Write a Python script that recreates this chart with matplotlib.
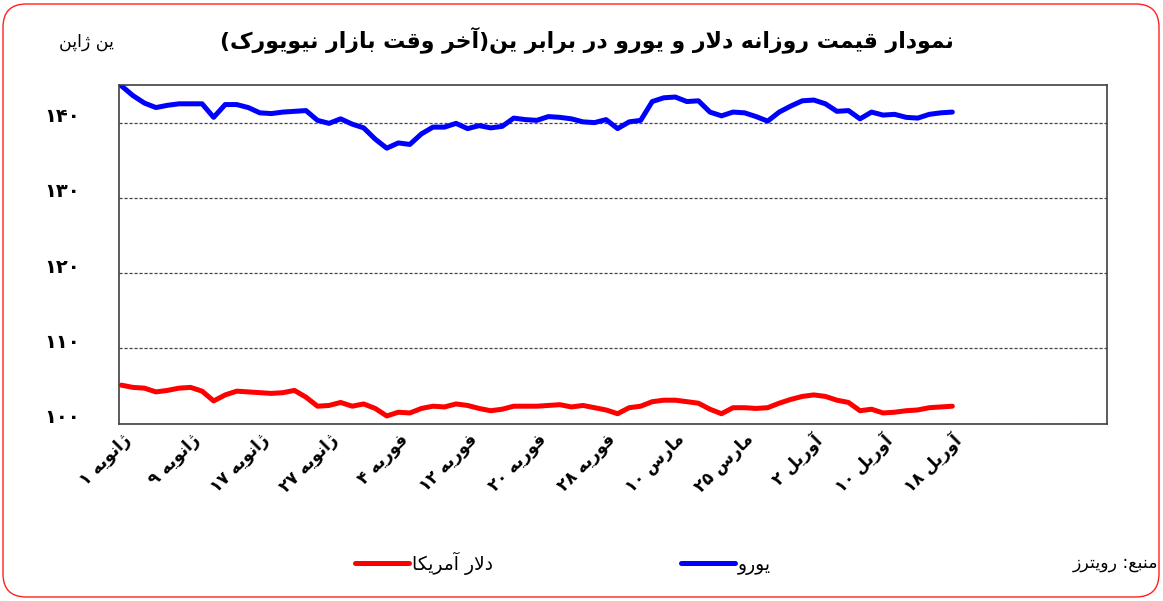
import matplotlib
matplotlib.use("Agg")
import matplotlib.pyplot as plt
import matplotlib.transforms as mtransforms
from matplotlib.patches import FancyBboxPatch
from matplotlib.ticker import FuncFormatter

# daily close, yen per unit
euro = [144.9, 143.6, 142.6, 142.0, 142.3, 142.5, 142.5, 142.5, 140.7, 142.4,
        142.4, 142.0, 141.3, 141.2, 141.4, 141.5, 141.6, 140.3, 139.9, 140.5,
        139.8, 139.3, 137.8, 136.6, 137.3, 137.1, 138.5, 139.4, 139.4, 139.9,
        139.2, 139.6, 139.3, 139.5, 140.6, 140.4, 140.3, 140.8, 140.7, 140.5,
        140.1, 140.0, 140.4, 139.2, 140.1, 140.3, 142.8, 143.3, 143.4, 142.8,
        142.9, 141.4, 140.9, 141.4, 141.3, 140.8, 140.2, 141.4, 142.2, 142.9,
        143.0, 142.5, 141.5, 141.6, 140.5, 141.4, 141.0, 141.1, 140.7, 140.6,
        141.1, 141.3, 141.4]
usd = [105.1, 104.8, 104.7, 104.2, 104.4, 104.7, 104.8, 104.3, 103.0, 103.8,
       104.3, 104.2, 104.1, 104.0, 104.1, 104.4, 103.5, 102.3, 102.4, 102.8,
       102.3, 102.6, 102.0, 101.0, 101.5, 101.4, 102.0, 102.3, 102.2, 102.6,
       102.4, 102.0, 101.7, 101.9, 102.3, 102.3, 102.3, 102.4, 102.5, 102.2,
       102.4, 102.1, 101.8, 101.3, 102.1, 102.3, 102.9, 103.1, 103.1, 102.9,
       102.7, 101.9, 101.3, 102.1, 102.1, 102.0, 102.1, 102.7, 103.2, 103.6,
       103.8, 103.6, 103.1, 102.8, 101.7, 101.9, 101.4, 101.5, 101.7, 101.8,
       102.1, 102.2, 102.3]
tick_months = ["ژانویه", "ژانویه", "ژانویه", "ژانویه", "فوریه", "فوریه", "فوریه",
               "فوریه", "مارس", "مارس", "آوریل", "آوریل", "آوریل"]
tick_days = [1, 9, 17, 27, 4, 12, 20, 28, 10, 25, 2, 10, 18]
yticks = [100, 110, 120, 130, 140]

title = "نمودار قیمت روزانه دلار و یورو در برابر ین(آخر وقت بازار نیویورک)"
unit_label = "ین ژاپن"
usd_name = "دلار آمریکا"
euro_name = "یورو"
source = "منبع: رویترز"

# --- crude persian shaping, matplotlib has no bidi/joining support ---
FORMS = {  # iso, fin, ini, med
    "ا": ("\uFE8D", "\uFE8E"), "آ": ("\uFE81", "\uFE82"),
    "د": ("\uFEA9", "\uFEAA"), "ر": ("\uFEAD", "\uFEAE"),
    "ز": ("\uFEAF", "\uFEB0"), "ژ": ("\uFB8A", "\uFB8B"),
    "و": ("\uFEED", "\uFEEE"),
    "ب": ("\uFE8F", "\uFE90", "\uFE91", "\uFE92"),
    "پ": ("\uFB56", "\uFB57", "\uFB58", "\uFB59"),
    "ت": ("\uFE95", "\uFE96", "\uFE97", "\uFE98"),
    "خ": ("\uFEA5", "\uFEA6", "\uFEA7", "\uFEA8"),
    "س": ("\uFEB1", "\uFEB2", "\uFEB3", "\uFEB4"),
    "ع": ("\uFEC9", "\uFECA", "\uFECB", "\uFECC"),
    "ف": ("\uFED1", "\uFED2", "\uFED3", "\uFED4"),
    "ق": ("\uFED5", "\uFED6", "\uFED7", "\uFED8"),
    "ک": ("\uFB8E", "\uFB8F", "\uFB90", "\uFB91"),
    "ل": ("\uFEDD", "\uFEDE", "\uFEDF", "\uFEE0"),
    "م": ("\uFEE1", "\uFEE2", "\uFEE3", "\uFEE4"),
    "ن": ("\uFEE5", "\uFEE6", "\uFEE7", "\uFEE8"),
    "ه": ("\uFEE9", "\uFEEA", "\uFEEB", "\uFEEC"),
    "ی": ("\uFBFC", "\uFBFD", "\uFBFE", "\uFBFF"),
}
LAMALEF = {"ا": ("\uFEFB", "\uFEFC"), "آ": ("\uFEF5", "\uFEF6")}
FA_DIGITS = "۰۱۲۳۴۵۶۷۸۹"


def fa_num(n):
    return "".join(FA_DIGITS[int(d)] for d in str(n))


def shape(text):
    chars = list(text)
    out = []
    i = 0
    prev_dual = False
    while i < len(chars):
        c = chars[i]
        if c not in FORMS:
            out.append(c)
            prev_dual = False
            i += 1
            continue
        if c == "ل" and i + 1 < len(chars) and chars[i + 1] in LAMALEF:
            out.append(LAMALEF[chars[i + 1]][1 if prev_dual else 0])
            prev_dual = False
            i += 2
            continue
        f = FORMS[c]
        nxt = i + 1 < len(chars) and chars[i + 1] in FORMS
        dual = len(f) == 4
        if dual and prev_dual and nxt:
            out.append(f[3])
        elif prev_dual:
            out.append(f[1])
        elif dual and nxt:
            out.append(f[2])
        else:
            out.append(f[0])
        prev_dual = dual
        i += 1
    # visual order: reverse, but keep digit runs left-to-right
    vis = out[::-1]
    res, run = [], []
    for c in vis:
        if c in FA_DIGITS or c.isdigit():
            run.append(c)
        else:
            res.extend(run[::-1])
            run = []
            res.append({"(": ")", ")": "("}.get(c, c))
    res.extend(run[::-1])
    return "".join(res)


plt.rcParams["font.family"] = ["DejaVu Sans"]

fig = plt.figure(figsize=(11.63, 6.01), dpi=100)
ax = fig.add_axes([119 / 1163, 1 - 423.5 / 601, (1107 - 119) / 1163, (423.5 - 85) / 601])

x = list(range(len(euro)))
l_usd, = ax.plot(x, usd, color="#ff0000", lw=3.6, solid_capstyle="round", solid_joinstyle="round")
l_eur, = ax.plot(x, euro, color="#0000ff", lw=3.6, solid_capstyle="round", solid_joinstyle="round")

ax.set_ylim(100, 145)
ax.set_xlim(-0.2, 85.4)
ax.set_yticks(yticks)
ax.yaxis.set_major_formatter(FuncFormatter(lambda v, p: fa_num(int(round(v)))))
ax.grid(axis="y", linestyle=(0, (2.5, 1.5)), color="#444444", lw=0.9)
ax.tick_params(axis="y", length=0, pad=28, labelsize=14)
for lab in ax.get_yticklabels():
    lab.set_fontweight("bold")
    lab.set_transform(lab.get_transform() + mtransforms.ScaledTranslation(0, 0.08, fig.dpi_scale_trans))

ax.set_xticks(range(0, len(euro), 6))
ax.set_xticklabels([shape(m + " " + fa_num(d)) for m, d in zip(tick_months, tick_days)],
                   rotation=45, ha="right", va="top", fontsize=12, fontweight="bold")
ax.tick_params(axis="x", length=0, pad=5)
for lab in ax.get_xticklabels():
    lab.set_transform(lab.get_transform() + mtransforms.ScaledTranslation(0.13, 0, fig.dpi_scale_trans))

for s in ax.spines.values():
    s.set_color("#404040")
    s.set_linewidth(1.2)

fig.text(0.505, 1 - 40 / 601, shape(title), ha="center", va="center", fontsize=15.8, fontweight="bold")
fig.text(86 / 1163, 1 - 42 / 601, shape(unit_label), ha="center", va="center", fontsize=12.5)
fig.text(1158 / 1163, 1 - 563 / 601, shape(source), ha="right", va="center", fontsize=12.5)

fig.legend([l_usd, l_eur], [shape(usd_name), shape(euro_name)], loc="center left",
           bbox_to_anchor=(355 / 1163, 1 - 563 / 601), ncol=2, frameon=False,
           handlelength=2.9, handletextpad=0.15, columnspacing=10.0,
           borderpad=0, borderaxespad=0, fontsize=13.5)

border = FancyBboxPatch((3 / 1163, 4 / 601), 1156 / 1163, 593 / 601,
                        boxstyle="round,pad=0,rounding_size=0.02",
                        mutation_aspect=1163 / 601, transform=fig.transFigure,
                        facecolor="none", edgecolor="#ff2020", lw=1.0)
fig.add_artist(border)

fig.savefig("out.png", dpi=100)
